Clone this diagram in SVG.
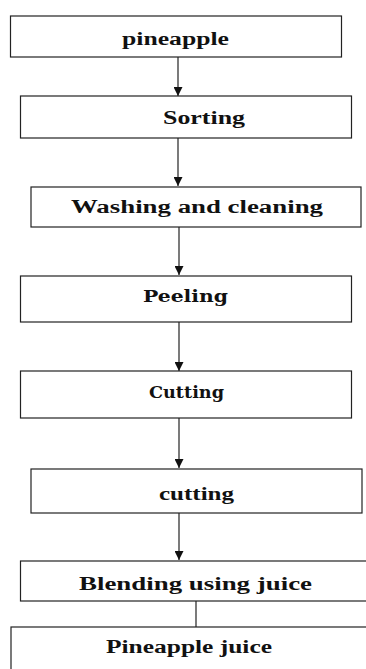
<svg xmlns="http://www.w3.org/2000/svg" width="366" height="669" viewBox="0 0 366 669">
<style>
.box{fill:#fff;stroke:#222;stroke-width:1.2}
.t{font-family:"Liberation Serif",serif;font-weight:bold;font-size:18px;fill:#111}
.c{font-family:"DejaVu Serif",serif;font-weight:bold;font-size:16px;fill:#111}
.ln{stroke:#222;stroke-width:1.2;fill:none}
</style>
<defs>
<marker id="ah" viewBox="0 0 10 10" refX="10" refY="5" markerWidth="10" markerHeight="9" markerUnits="userSpaceOnUse" orient="auto">
<path d="M0,0 L10,5 L0,10 Z" fill="#111"/>
</marker>
</defs>
<rect width="366" height="669" fill="#fff"/>
<g id="connectors">
<line class="ln" x1="178" y1="57" x2="178" y2="96" marker-end="url(#ah)"/>
<line class="ln" x1="178" y1="138" x2="178" y2="186" marker-end="url(#ah)"/>
<line class="ln" x1="179" y1="227" x2="179" y2="275" marker-end="url(#ah)"/>
<line class="ln" x1="179" y1="322" x2="179" y2="371" marker-end="url(#ah)"/>
<line class="ln" x1="179" y1="418" x2="179" y2="468" marker-end="url(#ah)"/>
<line class="ln" x1="179" y1="513" x2="179" y2="560" marker-end="url(#ah)"/>
<line class="ln" x1="196" y1="601" x2="196" y2="627"/>
</g>
<g id="n1"><rect class="box" x="10.5" y="16" width="331" height="41"/><text class="t" x="122" y="45" textLength="107" lengthAdjust="spacingAndGlyphs">pineapple</text></g>
<g id="n2"><rect class="box" x="20.5" y="96" width="331" height="42"/><text class="t" x="163" y="124" textLength="82" lengthAdjust="spacingAndGlyphs">Sorting</text></g>
<g id="n3"><rect class="box" x="31" y="187" width="330" height="40"/><text class="t" x="71" y="213" textLength="252" lengthAdjust="spacingAndGlyphs">Washing  and cleaning</text></g>
<g id="n4"><rect class="box" x="20.5" y="276" width="331" height="46"/><text class="c" x="143" y="302" textLength="85" lengthAdjust="spacingAndGlyphs">Peeling</text></g>
<g id="n5"><rect class="box" x="20.5" y="371" width="331" height="47"/><text class="c" x="149" y="398" textLength="75" lengthAdjust="spacingAndGlyphs">Cutting</text></g>
<g id="n6"><rect class="box" x="31" y="469" width="331" height="44"/><text class="t" x="159" y="500" textLength="75" lengthAdjust="spacingAndGlyphs">cutting</text></g>
<g id="n7"><rect class="box" x="20.5" y="561" width="350" height="40"/><text class="t" x="79" y="590" textLength="233" lengthAdjust="spacingAndGlyphs">Blending using juice</text></g>
<g id="n8"><rect class="box" x="11" y="627" width="360" height="50"/><text class="t" x="106" y="653" textLength="166" lengthAdjust="spacingAndGlyphs">Pineapple juice</text></g>
</svg>
